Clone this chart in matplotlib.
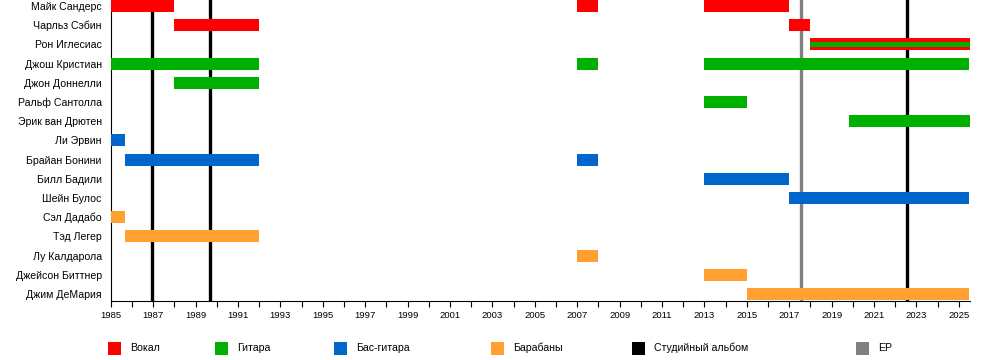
import matplotlib
matplotlib.use("Agg")
import matplotlib.pyplot as plt
from matplotlib.patches import Rectangle

plt.rcParams['font.family'] = ['Liberation Sans', 'DejaVu Sans']

END = 2025.5

members = ["Майк Сандерс", "Чарльз Сэбин", "Рон Иглесиас", "Джош Кристиан",
           "Джон Доннелли", "Ральф Сантолла", "Эрик ван Дрютен", "Ли Эрвин",
           "Брайан Бонини", "Билл Бадили", "Шейн Булос", "Сэл Дадабо",
           "Тэд Легер", "Лу Калдарола", "Джейсон Биттнер", "Джим ДеМария"]

# (member, role, start, end)
periods = [
    ("Майк Сандерс", "vocal", 1985, 1988),
    ("Майк Сандерс", "vocal", 2007, 2008),
    ("Майк Сандерс", "vocal", 2013, 2017),
    ("Чарльз Сэбин", "vocal", 1988, 1992),
    ("Чарльз Сэбин", "vocal", 2017, 2018),
    ("Рон Иглесиас", "vocal", 2018, END),
    ("Джош Кристиан", "guitar", 1985, 1992),
    ("Джош Кристиан", "guitar", 2007, 2008),
    ("Джош Кристиан", "guitar", 2013, END),
    ("Джон Доннелли", "guitar", 1988, 1992),
    ("Ральф Сантолла", "guitar", 2013, 2015),
    ("Эрик ван Дрютен", "guitar", 2019.8, END),
    ("Ли Эрвин", "bass", 1985, 1985.66),
    ("Брайан Бонини", "bass", 1985.66, 1992),
    ("Брайан Бонини", "bass", 2007, 2008),
    ("Билл Бадили", "bass", 2013, 2017),
    ("Шейн Булос", "bass", 2017, END),
    ("Сэл Дадабо", "drums", 1985, 1985.66),
    ("Тэд Легер", "drums", 1985.66, 1992),
    ("Лу Калдарола", "drums", 2007, 2008),
    ("Джейсон Биттнер", "drums", 2013, 2015),
    ("Джим ДеМария", "drums", 2015, END),
]

# secondary role stripes (member, role, start, end)
stripes = [
    ("Рон Иглесиас", "guitar", 2018, END),
]

studio_albums = [1986.95, 1989.7, 2022.55]
eps = [2017.55]

role_colors = {"vocal": "#FF0000", "guitar": "#00B000",
               "bass": "#0066CC", "drums": "#FFA030"}
legend_items = [("Вокал", "#FF0000"), ("Гитара", "#00B000"),
                ("Бас-гитара", "#0066CC"), ("Барабаны", "#FFA030"),
                ("Студийный альбом", "#000000"), ("EP", "#808080")]

year_ticks = list(range(1985, 2026))
year_labels = [str(y) if y % 2 == 1 else "" for y in year_ticks]

W, H = 1000, 360
fig = plt.figure(figsize=(W / 100, H / 100), dpi=100)
left_px, right_px, top_px, bottom_px = 110.7, 969.5, 0, 300.5
ax = fig.add_axes([left_px / W, 1 - bottom_px / H,
                   (right_px - left_px) / W, (bottom_px - top_px) / H])

row = {m: i for i, m in enumerate(members)}
bh = 0.625
for m, r, s, e in periods:
    ax.barh(row[m], e - s, left=s, height=bh, color=role_colors[r],
            zorder=3, linewidth=0)
for m, r, s, e in stripes:
    ax.barh(row[m], e - s, left=s, height=bh * 0.38, color=role_colors[r],
            zorder=4, linewidth=0)

for x in studio_albums:
    ax.axvline(x, color="#000000", lw=2.4, zorder=2)
for x in eps:
    ax.axvline(x, color="#808080", lw=2.4, zorder=2)

ax.set_xlim(1985, END)
ax.set_ylim(15.34, -0.3125)
ax.set_yticks(range(len(members)))
ax.set_yticklabels(members, fontsize=7.6)
ax.tick_params(axis='y', length=0, pad=6.5)
ax.set_xticks(year_ticks)
ax.set_xticklabels(year_labels, fontsize=6.8)
ax.tick_params(axis='x', length=4, width=0.8, direction='out', pad=3.5)
for s in ("top", "right"):
    ax.spines[s].set_visible(False)
ax.spines["left"].set_linewidth(0.8)
ax.spines["bottom"].set_linewidth(0.8)

# legend
leg_x = [108, 215, 334, 491, 632, 856]
sq = 13
yc = 348
for (lab, col), x in zip(legend_items, leg_x):
    fig.patches.append(Rectangle((x / W, 1 - (yc + sq / 2) / H), sq / W, sq / H,
                                 transform=fig.transFigure, color=col,
                                 linewidth=0))
    fig.text((x + 22) / W, 1 - yc / H, lab, fontsize=7.6, va='center',
             ha='left')

fig.savefig("out.png", dpi=100)
